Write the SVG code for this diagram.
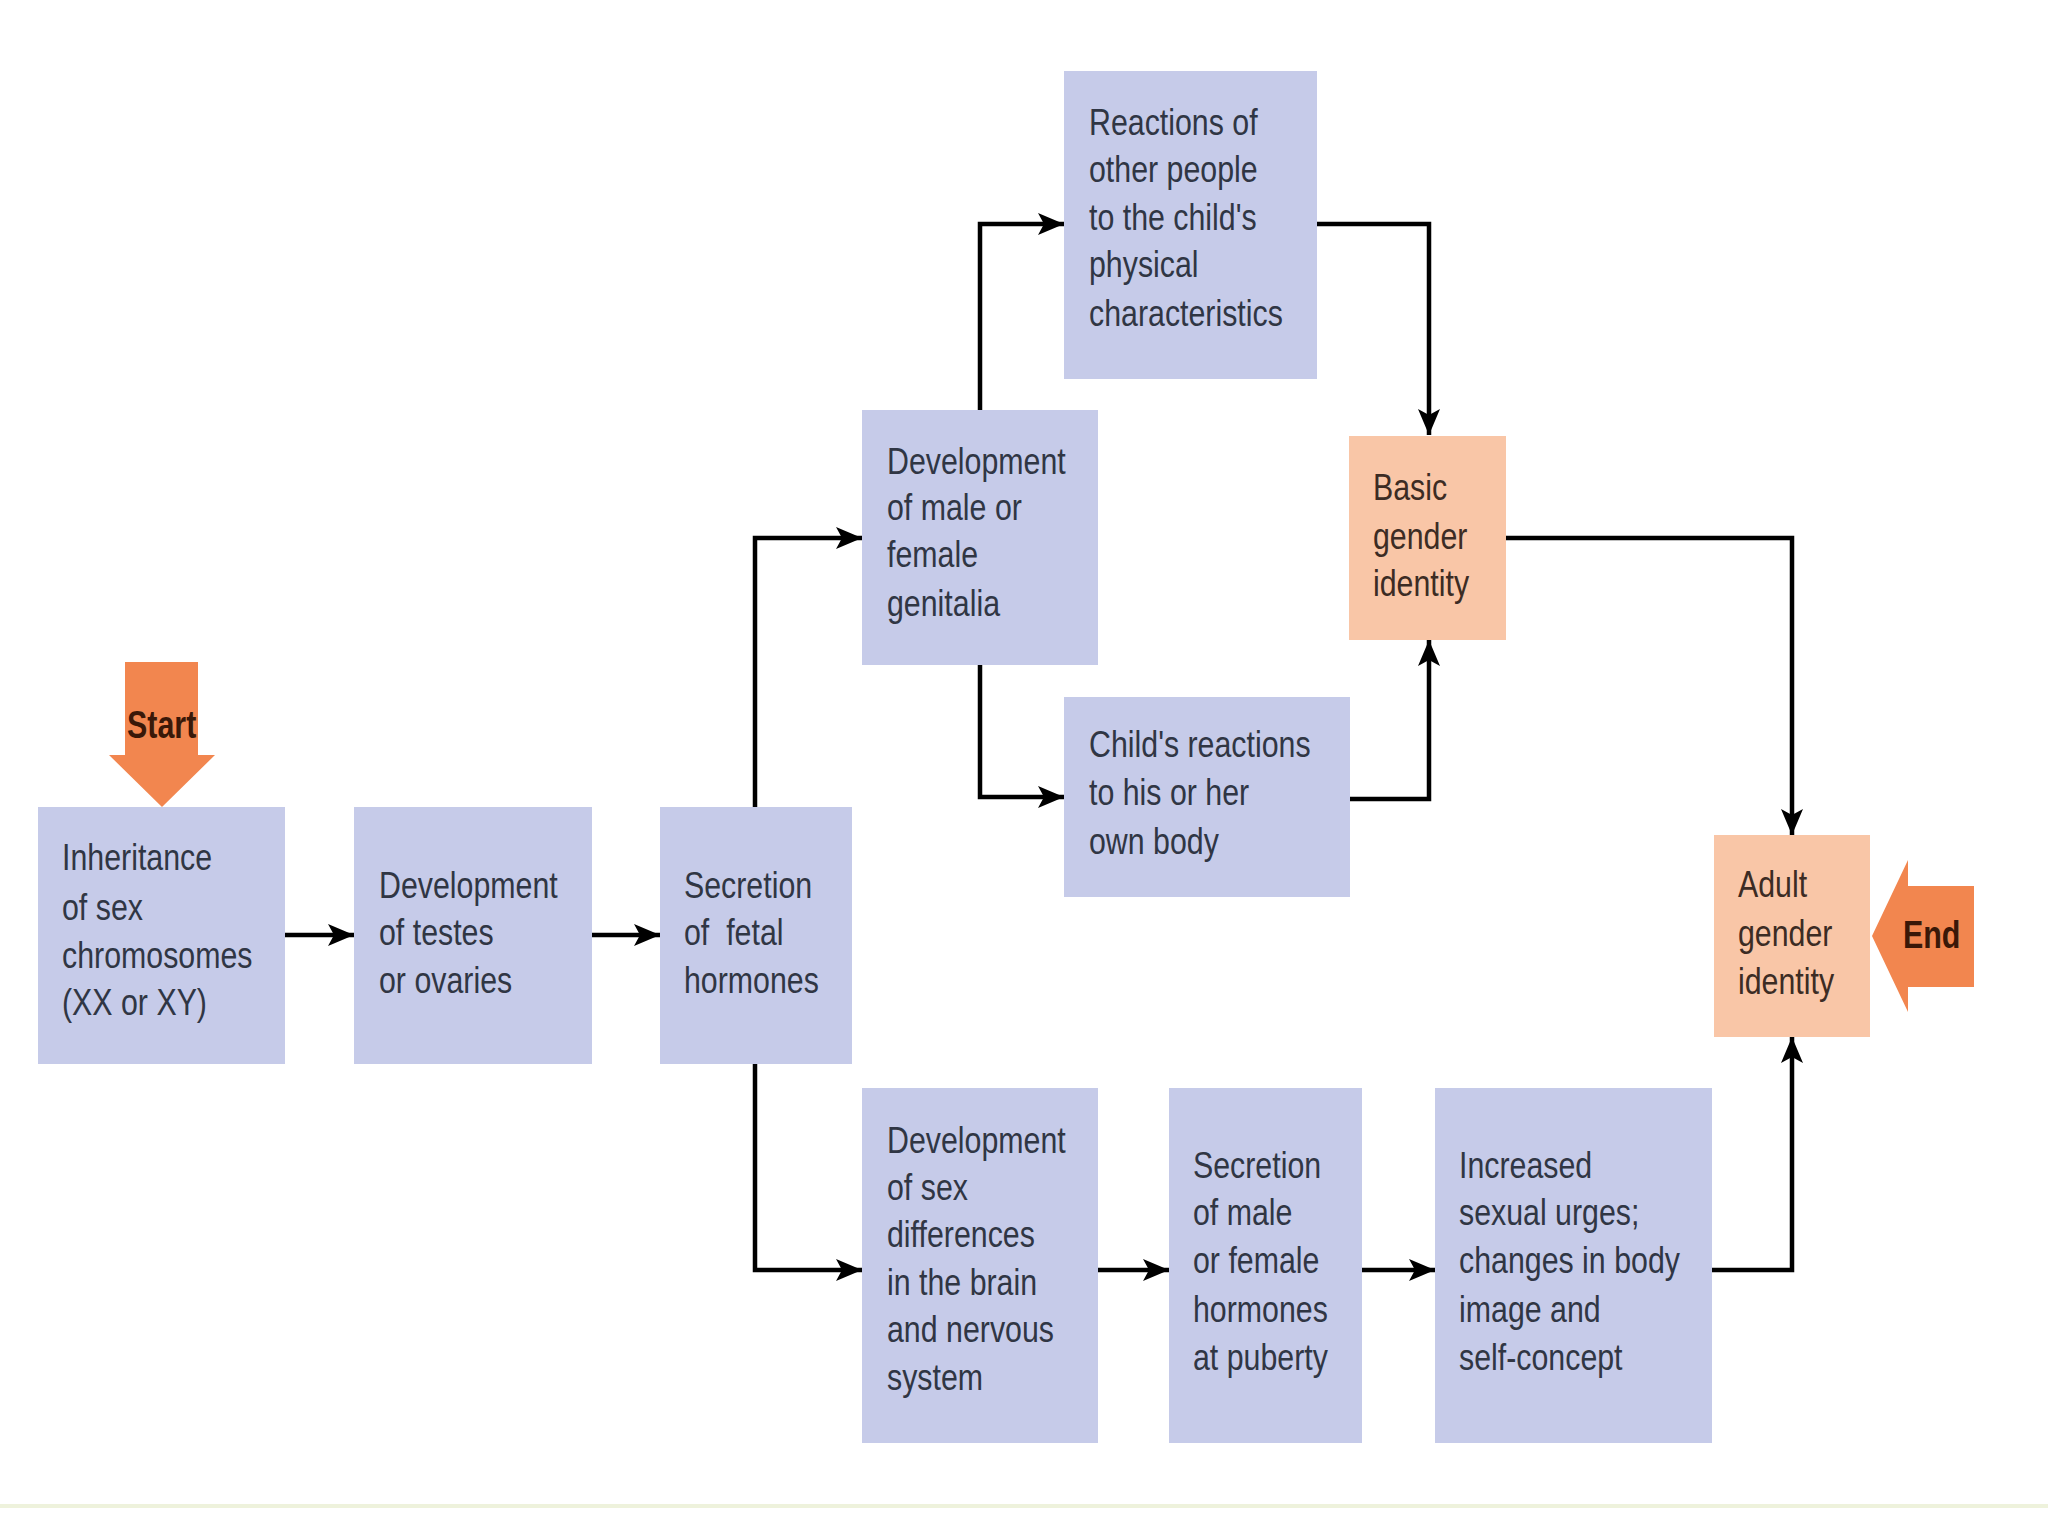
<svg xmlns="http://www.w3.org/2000/svg" width="2048" height="1536" viewBox="0 0 2048 1536">
  <defs>
    <style>
      .box { fill: #c6cbe9; }
      .obox { fill: #f9c6a7; }
      .t { font-family: "Liberation Sans", Arial, sans-serif; font-size: 37px; fill: #303644; }
      .ot { font-family: "Liberation Sans", Arial, sans-serif; font-size: 37px; fill: #3c2c24; }
      .se { font-family: "Liberation Sans", Arial, sans-serif; font-size: 38px; font-weight: bold; fill: #3a1808; }
      .bigarrow { fill: #f2864f; }
      .conn { fill: none; stroke: #000; stroke-width: 4.5; marker-end: url(#ah); }
    </style>
    <marker id="ah" markerUnits="userSpaceOnUse" markerWidth="28" markerHeight="24" refX="26" refY="12" orient="auto">
      <path d="M0,1 L26,12 L0,23 L6,12 Z" fill="#000"/>
    </marker>
  </defs>
  <rect width="2048" height="1536" fill="#ffffff"/>
  <rect x="0" y="1504" width="2048" height="4" fill="#eef2dc"/>

  <g id="connectors">
    <path class="conn" d="M285,935 H354"/>
    <path class="conn" d="M592,935 H660"/>
    <path class="conn" d="M755,808 V538 H862"/>
    <path class="conn" d="M755,1064 V1270 H862"/>
    <path class="conn" d="M980,410 V224 H1064"/>
    <path class="conn" d="M980,665 V797 H1064"/>
    <path class="conn" d="M1317,224 H1429 V435"/>
    <path class="conn" d="M1350,799 H1429 V640"/>
    <path class="conn" d="M1506,538 H1792 V835"/>
    <path class="conn" d="M1097,1270 H1169"/>
    <path class="conn" d="M1362,1270 H1435"/>
    <path class="conn" d="M1712,1270 H1792 V1037"/>
  </g>

  <g id="start">
    <path class="bigarrow" d="M125,662 H198 V755 H215 L162,807 L109,755 H125 Z"/>
    <text class="se" transform="translate(127,738) scale(0.8,1)">Start</text>
  </g>

  <g id="end">
    <path class="bigarrow" d="M1974,886 V987 H1908 V1012 L1872,936 L1908,860 V886 Z"/>
    <text class="se" transform="translate(1903,948) scale(0.8,1)">End</text>
  </g>

  <g id="inheritance">
    <rect class="box" x="38" y="807" width="247" height="257"/>
    <text class="t" transform="translate(62,870) scale(0.82,1)">Inheritance</text>
    <text class="t" transform="translate(62,920) scale(0.82,1)">of sex</text>
    <text class="t" transform="translate(62,968) scale(0.82,1)">chromosomes</text>
    <text class="t" transform="translate(62,1015) scale(0.82,1)">(XX or XY)</text>
  </g>

  <g id="testes">
    <rect class="box" x="354" y="807" width="238" height="257"/>
    <text class="t" transform="translate(379,898) scale(0.82,1)">Development</text>
    <text class="t" transform="translate(379,945) scale(0.82,1)">of testes</text>
    <text class="t" transform="translate(379,993) scale(0.82,1)">or ovaries</text>
  </g>

  <g id="fetal">
    <rect class="box" x="660" y="807" width="192" height="257"/>
    <text class="t" transform="translate(684,898) scale(0.82,1)">Secretion</text>
    <text class="t" transform="translate(684,945) scale(0.82,1)" xml:space="preserve">of  fetal</text>
    <text class="t" transform="translate(684,993) scale(0.82,1)">hormones</text>
  </g>

  <g id="genitalia">
    <rect class="box" x="862" y="410" width="236" height="255"/>
    <text class="t" transform="translate(887,474) scale(0.82,1)">Development</text>
    <text class="t" transform="translate(887,520) scale(0.82,1)">of male or</text>
    <text class="t" transform="translate(887,567) scale(0.82,1)">female</text>
    <text class="t" transform="translate(887,616) scale(0.82,1)">genitalia</text>
  </g>

  <g id="reactions">
    <rect class="box" x="1064" y="71" width="253" height="308"/>
    <text class="t" transform="translate(1089,135) scale(0.82,1)">Reactions of</text>
    <text class="t" transform="translate(1089,182) scale(0.82,1)">other people</text>
    <text class="t" transform="translate(1089,230) scale(0.82,1)">to the child's</text>
    <text class="t" transform="translate(1089,277) scale(0.82,1)">physical</text>
    <text class="t" transform="translate(1089,326) scale(0.82,1)">characteristics</text>
  </g>

  <g id="childreactions">
    <rect class="box" x="1064" y="697" width="286" height="200"/>
    <text class="t" transform="translate(1089,757) scale(0.82,1)">Child's reactions</text>
    <text class="t" transform="translate(1089,805) scale(0.82,1)">to his or her</text>
    <text class="t" transform="translate(1089,854) scale(0.82,1)">own body</text>
  </g>

  <g id="basic">
    <rect class="obox" x="1349" y="436" width="157" height="204"/>
    <text class="ot" transform="translate(1373,500) scale(0.82,1)">Basic</text>
    <text class="ot" transform="translate(1373,549) scale(0.82,1)">gender</text>
    <text class="ot" transform="translate(1373,596) scale(0.82,1)">identity</text>
  </g>

  <g id="adult">
    <rect class="obox" x="1714" y="835" width="156" height="202"/>
    <text class="ot" transform="translate(1738,897) scale(0.82,1)">Adult</text>
    <text class="ot" transform="translate(1738,946) scale(0.82,1)">gender</text>
    <text class="ot" transform="translate(1738,994) scale(0.82,1)">identity</text>
  </g>

  <g id="brain">
    <rect class="box" x="862" y="1088" width="236" height="355"/>
    <text class="t" transform="translate(887,1153) scale(0.82,1)">Development</text>
    <text class="t" transform="translate(887,1200) scale(0.82,1)">of sex</text>
    <text class="t" transform="translate(887,1247) scale(0.82,1)">differences</text>
    <text class="t" transform="translate(887,1295) scale(0.82,1)">in the brain</text>
    <text class="t" transform="translate(887,1342) scale(0.82,1)">and nervous</text>
    <text class="t" transform="translate(887,1390) scale(0.82,1)">system</text>
  </g>

  <g id="puberty">
    <rect class="box" x="1169" y="1088" width="193" height="355"/>
    <text class="t" transform="translate(1193,1178) scale(0.82,1)">Secretion</text>
    <text class="t" transform="translate(1193,1225) scale(0.82,1)">of male</text>
    <text class="t" transform="translate(1193,1273) scale(0.82,1)">or female</text>
    <text class="t" transform="translate(1193,1322) scale(0.82,1)">hormones</text>
    <text class="t" transform="translate(1193,1370) scale(0.82,1)">at puberty</text>
  </g>

  <g id="urges">
    <rect class="box" x="1435" y="1088" width="277" height="355"/>
    <text class="t" transform="translate(1459,1178) scale(0.82,1)">Increased</text>
    <text class="t" transform="translate(1459,1225) scale(0.82,1)">sexual urges;</text>
    <text class="t" transform="translate(1459,1273) scale(0.82,1)">changes in body</text>
    <text class="t" transform="translate(1459,1322) scale(0.82,1)">image and</text>
    <text class="t" transform="translate(1459,1370) scale(0.82,1)">self-concept</text>
  </g>
</svg>
